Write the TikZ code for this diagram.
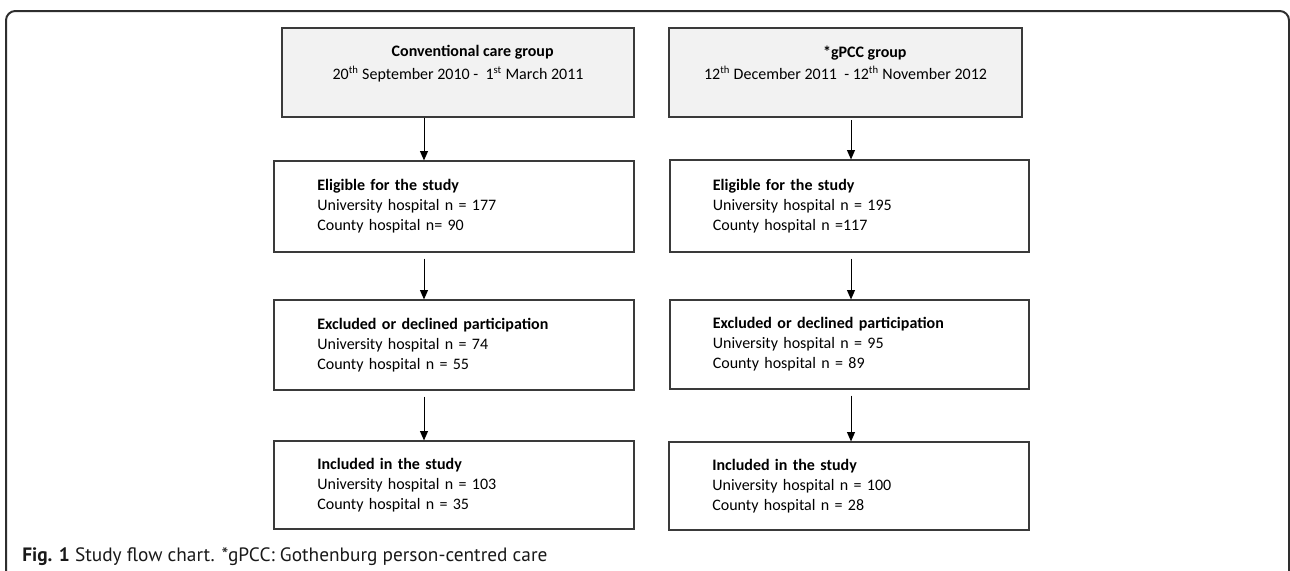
\documentclass[tikz,border=0pt]{standalone}
\usepackage{fontspec}
\setmainfont{Carlito}
\newfontfamily\capfont{PT Sans}
\usetikzlibrary{arrows.meta}
\definecolor{boxgray}{HTML}{F2F2F2}
\definecolor{edgecol}{HTML}{3A3A3A}
\definecolor{framecol}{HTML}{2E2E2E}
\begin{document}
\begin{tikzpicture}[x=0.75pt,y=-0.75pt,
  flowbox/.style={draw=edgecol, line width=0.9pt, inner sep=0pt, align=left,
    text width=205pt, font=\fontsize{12}{15}\selectfont},
  headbox/.style={draw=edgecol, line width=0.9pt, fill=boxgray, inner sep=0pt},
  headtext/.style={align=center, anchor=north, inner sep=0pt, yshift=-13.5pt,
    font=\fontsize{12}{17}\selectfont},
  arr/.style={draw=black, line width=0.7pt, -{Triangle[length=7pt,width=6pt]}}]
\useasboundingbox (0,0) rectangle (1290,571);
\fill[white] (0,0) rectangle (1290,571);
% frame
\draw[framecol, line width=1.5pt, rounded corners=7pt] (6,580) -- (6,11) -- (1289,11) -- (1289,580);
% top boxes
\node[headbox, minimum width=264pt, minimum height=66.75pt,
  label={[headtext]north:{\hspace*{22pt}\textbf{Conventional care group}\\20\textsuperscript{th} September 2010 -\ \ 1\textsuperscript{st} March 2011}}] (l1) at (458,72.5) {};
\node[headbox, minimum width=264.75pt, minimum height=66.75pt,
  label={[headtext]north:{\hspace*{29pt}\textbf{*gPCC group}\\12\textsuperscript{th} December 2011\ \ - 12\textsuperscript{th} November 2012}}] (r1) at (845.5,72.5) {};
% row 2
\node[flowbox, minimum width=270pt, minimum height=68.25pt] (l2) at (454,206.5)
  {\textbf{Eligible for the study}\\University hospital n = 177\\County hospital n= 90};
\node[flowbox, minimum width=269.25pt, minimum height=69pt] (r2) at (849.5,206)
  {\textbf{Eligible for the study}\\University hospital n = 195\\County hospital n =117};
% row 3
\node[flowbox, minimum width=270pt, minimum height=67.5pt] (l3) at (454,345)
  {\textbf{Excluded or declined participation}\\University hospital n = 74\\County hospital n = 55};
\node[flowbox, minimum width=269.25pt, minimum height=66.75pt] (r3) at (849.5,344.5)
  {\textbf{Excluded or declined participation}\\University hospital n = 95\\County hospital n = 89};
% row 4
\node[flowbox, minimum width=270pt, minimum height=66pt] (l4) at (454,485)
  {\textbf{Included in the study}\\University hospital n = 103\\County hospital n = 35};
\node[flowbox, minimum width=270pt, minimum height=66pt] (r4) at (849,486)
  {\textbf{Included in the study}\\University hospital n = 100\\County hospital n = 28};
% arrows
\coordinate (axL) at (424,0);
\coordinate (axR) at (851,0);
\draw[arr] (l1.south -| axL) -- (l2.north -| axL);
\draw[arr, shorten <=4.5pt] (l2.south -| axL) -- (l3.north -| axL);
\draw[arr, shorten <=4.5pt] (l3.south -| axL) -- (l4.north -| axL);
\draw[arr, shorten <=2pt] (r1.south -| axR) -- (r2.north -| axR);
\draw[arr, shorten <=4.5pt] (r2.south -| axR) -- (r3.north -| axR);
\draw[arr, shorten <=4.5pt] (r3.south -| axR) -- (r4.north -| axR);
% caption
\node[anchor=west, inner sep=0pt, text=black!90, font=\capfont\fontsize{14.5}{17}\selectfont] (cap) at (22,557)
  {\textbf{Fig. 1} Study flow chart. *gPCC: Gothenburg person-centred care};
\end{tikzpicture}
\end{document}
